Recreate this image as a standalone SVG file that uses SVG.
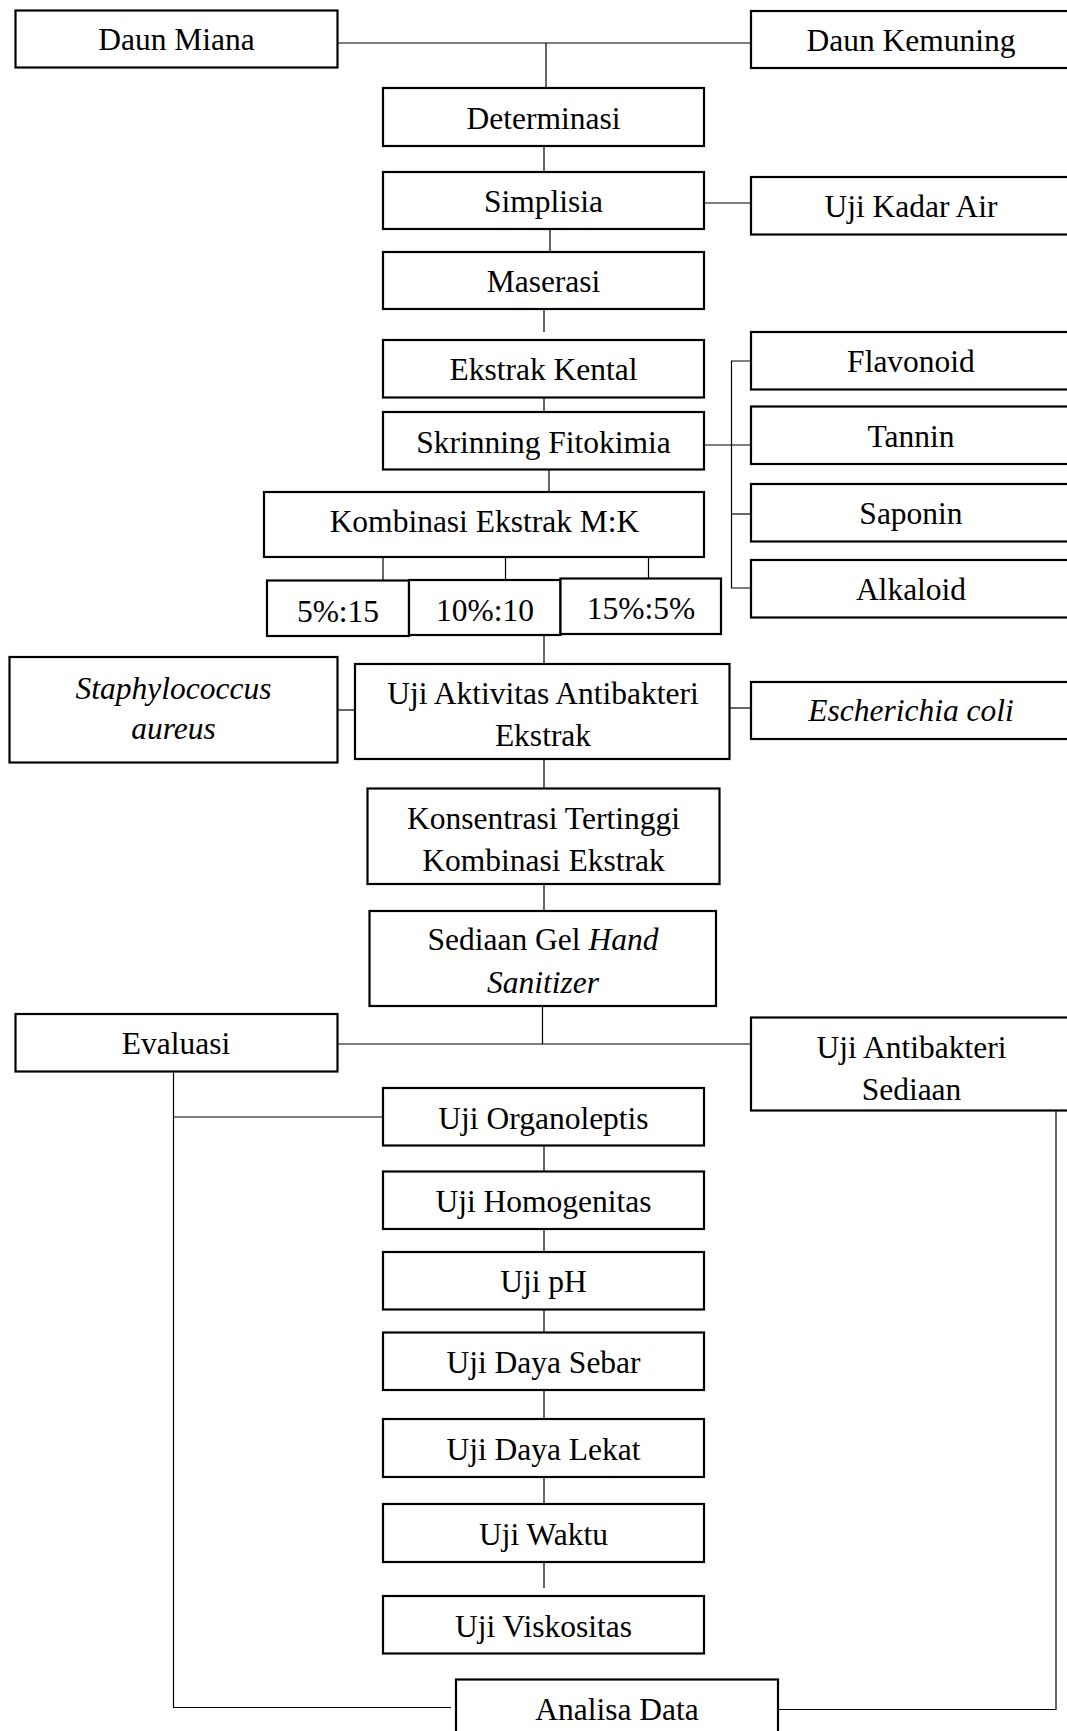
<svg xmlns="http://www.w3.org/2000/svg" width="1067" height="1731" viewBox="0 0 1067 1731">
<style>
rect.b{fill:#fff;stroke:#000;stroke-width:2.2}
text{font-family:"Liberation Serif","Times New Roman",serif;font-size:31.5px;fill:#000;text-anchor:middle}
.i{font-style:italic}
#connectors line,#connectors polyline{stroke:#000;stroke-width:1.2;fill:none}
</style>
<rect width="1067" height="1731" fill="#fff"/>
<g id="connectors">
<line x1="337" y1="43" x2="751" y2="43"/>
<line x1="546" y1="43" x2="546" y2="88"/>
<line x1="544" y1="146" x2="544" y2="172"/>
<line x1="704" y1="203" x2="751" y2="203"/>
<line x1="550" y1="229" x2="550" y2="252"/>
<line x1="544" y1="309" x2="544" y2="332"/>
<line x1="544" y1="388" x2="544" y2="412"/>
<line x1="704" y1="445" x2="751" y2="445"/>
<polyline points="751,361 731.5,361 731.5,588 751,588"/>
<line x1="731.5" y1="514" x2="751" y2="514"/>
<line x1="549" y1="470" x2="549" y2="492"/>
<line x1="383" y1="547" x2="383" y2="580"/>
<line x1="505.5" y1="547" x2="505.5" y2="580"/>
<line x1="648.5" y1="551" x2="648.5" y2="582"/>
<line x1="544" y1="635" x2="544" y2="664"/>
<line x1="337" y1="710" x2="355" y2="710"/>
<line x1="729" y1="708" x2="751" y2="708"/>
<line x1="544" y1="759" x2="544" y2="788"/>
<line x1="544" y1="884" x2="544" y2="911"/>
<line x1="542.5" y1="1006" x2="542.5" y2="1044"/>
<line x1="337" y1="1044" x2="751" y2="1044"/>
<polyline points="173.5,1072 173.5,1707.5 451,1707.5"/>
<line x1="173.5" y1="1117" x2="383" y2="1117"/>
<polyline points="1056,1110 1056,1709.5 778,1709.5"/>
<line x1="544" y1="1145" x2="544" y2="1172"/>
<line x1="544" y1="1224" x2="544" y2="1253"/>
<line x1="544" y1="1304" x2="544" y2="1333"/>
<line x1="544" y1="1390" x2="544" y2="1419"/>
<line x1="544" y1="1472" x2="544" y2="1504"/>
<line x1="544" y1="1557" x2="544" y2="1588"/>
</g>
<g id="daun-miana"><rect class="b" x="15.5" y="10.5" width="322" height="57"/><text x="176.5" y="50">Daun Miana</text></g>
<g id="daun-kemuning"><rect class="b" x="751" y="11" width="322" height="57"/><text x="911" y="50.5">Daun Kemuning</text></g>
<g id="determinasi"><rect class="b" x="383" y="88" width="321" height="58"/><text x="543.5" y="128.5">Determinasi</text></g>
<g id="simplisia"><rect class="b" x="383" y="172" width="321" height="57"/><text x="543.5" y="212">Simplisia</text></g>
<g id="uji-kadar-air"><rect class="b" x="751" y="177" width="322" height="57.5"/><text x="911" y="216.5">Uji Kadar Air</text></g>
<g id="maserasi"><rect class="b" x="383" y="252" width="321" height="57"/><text x="543.5" y="291.5">Maserasi</text></g>
<g id="ekstrak-kental"><rect class="b" x="383" y="340" width="321" height="57.5"/><text x="543.5" y="380">Ekstrak Kental</text></g>
<g id="skrinning"><rect class="b" x="383" y="412" width="321" height="57.5"/><text x="543.5" y="452.5">Skrinning Fitokimia</text></g>
<g id="flavonoid"><rect class="b" x="751" y="332" width="322" height="57.5"/><text x="911" y="371.5">Flavonoid</text></g>
<g id="tannin"><rect class="b" x="751" y="406.5" width="322" height="57.5"/><text x="911" y="446.5">Tannin</text></g>
<g id="saponin"><rect class="b" x="751" y="484" width="322" height="57.5"/><text x="911" y="523.5">Saponin</text></g>
<g id="alkaloid"><rect class="b" x="751" y="560" width="322" height="57.5"/><text x="911" y="600">Alkaloid</text></g>
<g id="kombinasi"><rect class="b" x="264" y="492" width="440" height="65"/><text x="484.5" y="531.5">Kombinasi Ekstrak M:K</text></g>
<g id="r5-15"><rect class="b" x="267" y="580.5" width="142" height="55.5"/><text x="338" y="621.5">5%:15</text></g>
<g id="r10-10"><rect class="b" x="409" y="580" width="151.5" height="55"/><text x="485" y="620.5">10%:10</text></g>
<g id="r15-5"><rect class="b" x="560.5" y="578.5" width="160.5" height="55.5"/><text x="641" y="618.5">15%:5%</text></g>
<g id="staphylococcus"><rect class="b" x="9.5" y="657" width="328" height="105.5"/><text class="i" x="173.5" y="698.5">Staphylococcus</text><text class="i" x="173.5" y="739">aureus</text></g>
<g id="uji-aktivitas"><rect class="b" x="355" y="664" width="374.5" height="95"/><text x="543" y="703.5">Uji Aktivitas Antibakteri</text><text x="543" y="746">Ekstrak</text></g>
<g id="escherichia"><rect class="b" x="751" y="682" width="322" height="57"/><text class="i" x="911" y="721">Escherichia coli</text></g>
<g id="konsentrasi"><rect class="b" x="367.5" y="788.5" width="352" height="95.5"/><text x="543.5" y="828.5">Konsentrasi Tertinggi</text><text x="543.5" y="871">Kombinasi Ekstrak</text></g>
<g id="sediaan-gel"><rect class="b" x="369.5" y="911" width="346.5" height="95"/><text x="543" y="950">Sediaan Gel <tspan class="i">Hand</tspan></text><text class="i" x="543" y="992.5">Sanitizer</text></g>
<g id="evaluasi"><rect class="b" x="15.5" y="1014" width="322" height="57.5"/><text x="176" y="1053.5">Evaluasi</text></g>
<g id="uji-antibakteri-sediaan"><rect class="b" x="751" y="1017.5" width="322" height="93"/><text x="911.5" y="1057.5">Uji Antibakteri</text><text x="911.5" y="1099.5">Sediaan</text></g>
<g id="uji-organoleptis"><rect class="b" x="383" y="1088" width="321" height="57.5"/><text x="543.5" y="1129">Uji Organoleptis</text></g>
<g id="uji-homogenitas"><rect class="b" x="383" y="1171.5" width="321" height="57.5"/><text x="543.5" y="1212">Uji Homogenitas</text></g>
<g id="uji-ph"><rect class="b" x="383" y="1252" width="321" height="57.5"/><text x="543.5" y="1291.5">Uji pH</text></g>
<g id="uji-daya-sebar"><rect class="b" x="383" y="1332.5" width="321" height="57.5"/><text x="543.5" y="1372.5">Uji Daya Sebar</text></g>
<g id="uji-daya-lekat"><rect class="b" x="383" y="1419" width="321" height="58"/><text x="543.5" y="1459.5">Uji Daya Lekat</text></g>
<g id="uji-waktu"><rect class="b" x="383" y="1504" width="321" height="58"/><text x="543.5" y="1544.5">Uji Waktu</text></g>
<g id="uji-viskositas"><rect class="b" x="383" y="1596" width="321" height="57.5"/><text x="543.5" y="1636.5">Uji Viskositas</text></g>
<g id="analisa-data"><rect class="b" x="456" y="1679.5" width="322" height="60"/><text x="617" y="1720">Analisa Data</text></g>
</svg>
